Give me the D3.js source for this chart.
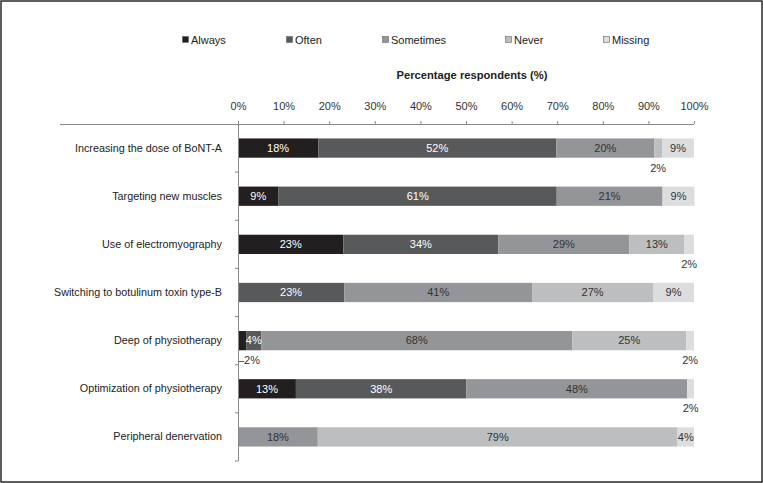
<!DOCTYPE html>
<html>
<head>
<meta charset="utf-8">
<script src="https://cdn.jsdelivr.net/npm/d3@7"></script>
<style>
  body { margin: 0; background: #fff; }
  text { font-family: "Liberation Sans", Arial, sans-serif; }
</style>
</head>
<body>
<script>
// categories, top to bottom
var categories = [
  "Increasing the dose of BoNT-A",
  "Targeting new muscles",
  "Use of electromyography",
  "Switching to botulinum toxin type-B",
  "Deep of physiotherapy",
  "Optimization of physiotherapy",
  "Peripheral denervation"
];
var seriesNames = ["Always", "Often", "Sometimes", "Never", "Missing"];

// segment sizes as drawn (%)
var always    = [17.6, 8.9, 23.1, 0, 1.8, 12.7, 0];
var often     = [52.2, 61.0, 34.0, 23.3, 3.3, 37.4, 0];
var sometimes = [21.5, 23.2, 28.7, 41.2, 68.2, 48.4, 17.5];
var never     = [1.7, 0, 12.1, 26.5, 25.0, 0, 78.9];
var missing   = [7.0, 7.0, 2.1, 9.0, 1.7, 1.5, 3.6];

// printed labels ("" = none); "below" ones sit under the bar
var alwaysLbl    = ["18%", "9%", "23%", "", "–2%", "13%", ""];
var oftenLbl     = ["52%", "61%", "34%", "23%", "4%", "38%", ""];
var sometimesLbl = ["20%", "21%", "29%", "41%", "68%", "48%", "18%"];
var neverLbl     = ["2%", "", "13%", "27%", "25%", "", "79%"];
var missingLbl   = ["9%", "9%", "2%", "9%", "2%", "2%", "4%"];
var belowLbl = [
  [false, false, false, true, false],
  [false, false, false, false, false],
  [false, false, false, false, true],
  [false, false, false, false, false],
  [true, false, false, false, true],
  [false, false, false, false, true],
  [false, false, false, false, false]
];

var xTicks = [0, 10, 20, 30, 40, 50, 60, 70, 80, 90, 100];

var colors = ["#231f20", "#58595b", "#939598", "#bcbec0", "#dcdddf"];
var textColors = ["#fff", "#fff", "#333", "#333", "#333"];

var W = 763, H = 483;
var pLeft = 238, pRight = 694, pTop = 124, pBottom = 461;

var svg = d3.select("body").append("svg")
  .attr("width", W).attr("height", H);

svg.append("rect")
  .attr("x", 1).attr("y", 1).attr("width", W - 2).attr("height", H - 2)
  .attr("fill", "#fff").attr("stroke", "#2a2a2a").attr("stroke-width", 1.5);

var x = d3.scaleLinear().domain([0, 100]).range([pLeft, pRight]);
var y = d3.scaleBand().domain(categories).range([pTop, pBottom])
  .paddingInner(0.6).paddingOuter(0.3);
var yBand = d3.scaleBand().domain(categories).range([pTop, pBottom]);

var rows = categories.map((c, i) => ({
  cat: c,
  Always: always[i], Often: often[i], Sometimes: sometimes[i],
  Never: never[i], Missing: missing[i]
}));
var lbls = [alwaysLbl, oftenLbl, sometimesLbl, neverLbl, missingLbl];

var stack = d3.stack().keys(seriesNames)(rows);

// bars
var g = svg.append("g");
stack.forEach((layer, k) => {
  g.selectAll(null).data(layer).enter().append("rect")
    .attr("x", d => x(d[0]))
    .attr("y", d => y(d.data.cat))
    .attr("width", d => x(d[1]) - x(d[0]))
    .attr("height", y.bandwidth())
    .attr("fill", colors[k]);
});

// labels
stack.forEach((layer, k) => {
  layer.forEach((d, i) => {
    var t = lbls[k][i];
    if (!t) return;
    var cx = (x(d[0]) + x(d[1])) / 2;
    var below = belowLbl[i][k];
    var cy = below ? y(d.data.cat) + y.bandwidth() + 10 : y(d.data.cat) + y.bandwidth() / 2;
    var txt = svg.append("text")
      .attr("x", cx).attr("y", cy)
      .attr("dy", "0.35em")
      .attr("text-anchor", "middle")
      .attr("font-size", 11)
      .attr("fill", below ? "#333" : textColors[k])
      .text(t);
    var w = txt.node().getComputedTextLength();
    if (cx - w / 2 < pLeft) txt.attr("x", pLeft + w / 2);
  });
});

// x axis on top
var xAxis = d3.axisTop(x).tickValues(xTicks).tickFormat(d => d + "%").tickSize(3).tickSizeOuter(0);
var ax = svg.append("g").attr("transform", "translate(0," + pTop + ")").call(xAxis);
ax.select(".domain").remove();
ax.selectAll(".tick line").attr("stroke", "#888");
ax.selectAll(".tick text").attr("font-size", 11).attr("fill", "#333")
  .attr("font-family", "Liberation Sans, Arial, sans-serif").attr("dy", "-0.7em");
svg.append("line")
  .attr("x1", 60).attr("x2", pRight).attr("y1", pTop + 0.5).attr("y2", pTop + 0.5)
  .attr("stroke", "#888");

// y axis
var yAxis = d3.axisLeft(yBand).tickSize(0);
var ay = svg.append("g").attr("transform", "translate(" + pLeft + ",0)").call(yAxis);
ay.select(".domain").attr("stroke", "#888").attr("d", "M0.5," + pTop + "V" + pBottom);
ay.selectAll(".tick text").attr("font-size", 10.8).attr("fill", "#222")
  .attr("font-family", "Liberation Sans, Arial, sans-serif").attr("x", -16);
// category boundary ticks
svg.selectAll(null).data(categories).enter().append("line")
  .attr("x1", pLeft - 3).attr("x2", pLeft)
  .attr("y1", (d, i) => pTop + yBand.step() * (i + 1))
  .attr("y2", (d, i) => pTop + yBand.step() * (i + 1))
  .attr("stroke", "#888");

// axis title
svg.append("text")
  .attr("x", 472).attr("y", 75).attr("dy", "0.35em")
  .attr("text-anchor", "middle").attr("font-size", 11.2).attr("font-weight", "bold")
  .attr("fill", "#222")
  .text("Percentage respondents (%)");

// legend
var legendX = [182, 286, 382, 505, 603];
var lg = svg.selectAll(".lg").data(seriesNames).enter().append("g")
  .attr("transform", (d, i) => "translate(" + legendX[i] + ",40)");
lg.append("rect").attr("x", 0.5).attr("y", -3.5).attr("width", 6).attr("height", 6)
  .attr("fill", (d, i) => colors[i]).attr("stroke", "#666").attr("stroke-width", 0.6);
lg.append("text").attr("x", 9).attr("dy", "0.35em").attr("font-size", 11)
  .attr("fill", "#222").text(d => d);
</script>
</body>
</html>
